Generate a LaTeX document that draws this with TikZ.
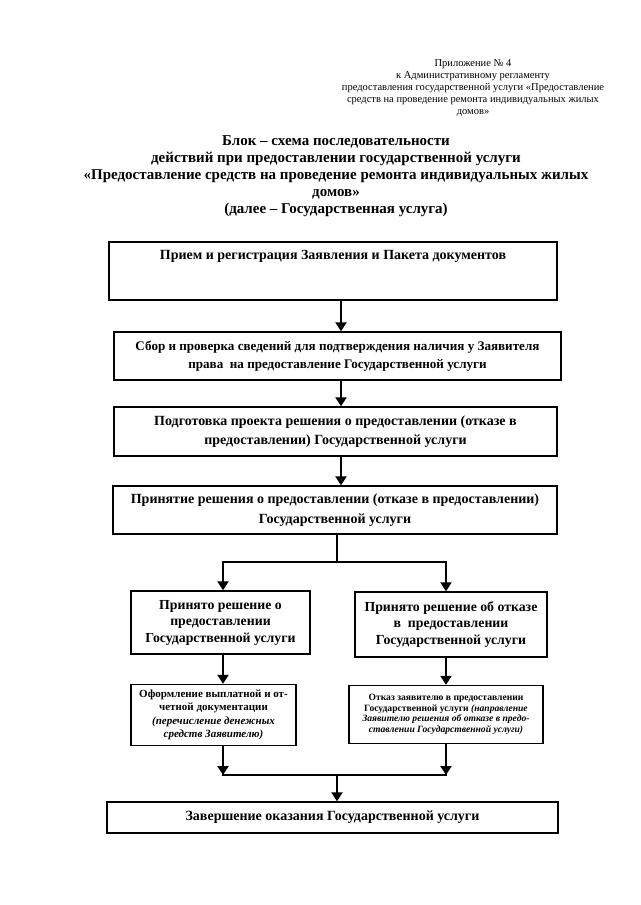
\documentclass[tikz,border=0pt]{standalone}
\usepackage{fontspec}
\setmainfont{Liberation Serif}
\usepackage{tikz}
\usetikzlibrary{arrows.meta,calc}

\begin{document}
\begin{tikzpicture}[x=1pt,y=1pt,yscale=-1,xscale=1,
    box/.style={draw,line width=1.4pt,align=center,inner sep=0pt,font=\bfseries\fontsize{14}{19.5}\selectfont},
    midbox/.style={box,font=\bfseries\fontsize{13.8}{16.5}\selectfont},
    smallbox/.style={box,font=\bfseries\fontsize{11}{13.5}\selectfont},
    tinybox/.style={box,font=\bfseries\fontsize{9.6}{10.5}\selectfont},
    flow/.style={line width=2.7pt,-{Triangle[width=11pt,length=9pt]}},
    link/.style={line width=2.7pt}]
  \useasboundingbox (0,0) rectangle (640,905);

  % Text Node
  \node (appx) [anchor=north,align=center,font=\fontsize{10.5}{12}\selectfont] at (473,56)
    {Приложение № 4\\ к Административному регламенту\\ предоставления государственной услуги «Предоставление\\ средств на проведение ремонта индивидуальных жилых\\ домов»};
  % Text Node
  \node (title) [anchor=north,align=center,font=\bfseries\fontsize{15}{17}\selectfont] at (336,132)
    {Блок – схема последовательности\\ действий при предоставлении государственной услуги\\ «Предоставление средств на проведение ремонта индивидуальных жилых\\ домов»\\ (далее – Государственная услуга)};

  %Shape: Rectangle
  \node (reg) [box,minimum width=448pt,minimum height=58pt,text depth=33pt] at (333,271)
    {Прием и регистрация Заявления и Пакета документов};
  %Shape: Rectangle
  \node (check) [box,font=\bfseries\fontsize{13.1}{18}\selectfont,minimum width=447pt,minimum height=48pt] at (337.5,356)
    {Сбор и проверка сведений для подтверждения наличия у Заявителя\\ права~~на предоставление Государственной услуги};
  %Shape: Rectangle
  \node (draft) [box,minimum width=443pt,minimum height=49pt] at (335.5,431.5)
    {Подготовка проекта решения о предоставлении (отказе в\\ предоставлении) Государственной услуги};
  %Shape: Rectangle
  \node (decide) [box,minimum width=444pt,minimum height=48pt] at (335,510)
    {Принятие решения о предоставлении (отказе в предоставлении)\\ Государственной услуги};

  %Shape: Rectangle
  \node (grant) [midbox,minimum width=179pt,minimum height=63pt] at (220.5,622.5)
    {Принято решение о\\ предоставлении\\ Государственной услуги};
  %Shape: Rectangle
  \node (refuse) [midbox,minimum width=192pt,minimum height=65pt] at (451,624.5)
    {Принято решение об отказе\\ в~~предоставлении\\ Государственной услуги};

  %Shape: Rectangle
  \node (pay) [smallbox,minimum width=165pt,minimum height=61pt] at (213.5,715)
    {Оформление выплатной и от-\\ четной документации\\ \textit{(перечисление денежных}\\ \textit{средств Заявителю)}};
  %Shape: Rectangle
  \node (deny) [tinybox,minimum width=194pt,minimum height=58pt] at (446,714.5)
    {Отказ заявителю в предоставлении\\ Государственной услуги \textit{(направление}\\ \textit{Заявителю решения об отказе в предо-}\\ \textit{ставлении Государственной услуги)}};

  %Shape: Rectangle
  \node (finish) [box,minimum width=451pt,minimum height=31pt] at (332.5,817.5)
    {Завершение оказания Государственной услуги};

  % junction points
  \coordinate (spine) at (341,0);
  \coordinate (fork) at (337,562);
  \coordinate (lx) at (223,0);
  \coordinate (rx) at (446,0);
  \coordinate (join) at (337,775);

  %Straight Lines
  \draw [flow] (reg.south -| spine) -- (check.north -| spine);
  \draw [flow] (check.south -| spine) -- (draft.north -| spine);
  \draw [flow] (draft.south -| spine) -- (decide.north -| spine);
  \draw [link] (decide.south -| fork) -- (fork);
  \draw [flow] (fork) -| (grant.north -| lx);
  \draw [flow] (fork) -| (refuse.north -| rx);
  \draw [flow] (grant.south -| lx) -- (pay.north -| lx);
  \draw [flow] (refuse.south -| rx) -- (deny.north -| rx);
  \draw [flow] (pay.south -| lx) -- (join -| lx);
  \draw [flow] (deny.south -| rx) -- (join -| rx);
  \draw [link] ($(join -| lx)+(-1.35,0)$) -- ($(join -| rx)+(1.35,0)$);
  \draw [flow] (join) -- (finish.north -| join);

\end{tikzpicture}
\end{document}
